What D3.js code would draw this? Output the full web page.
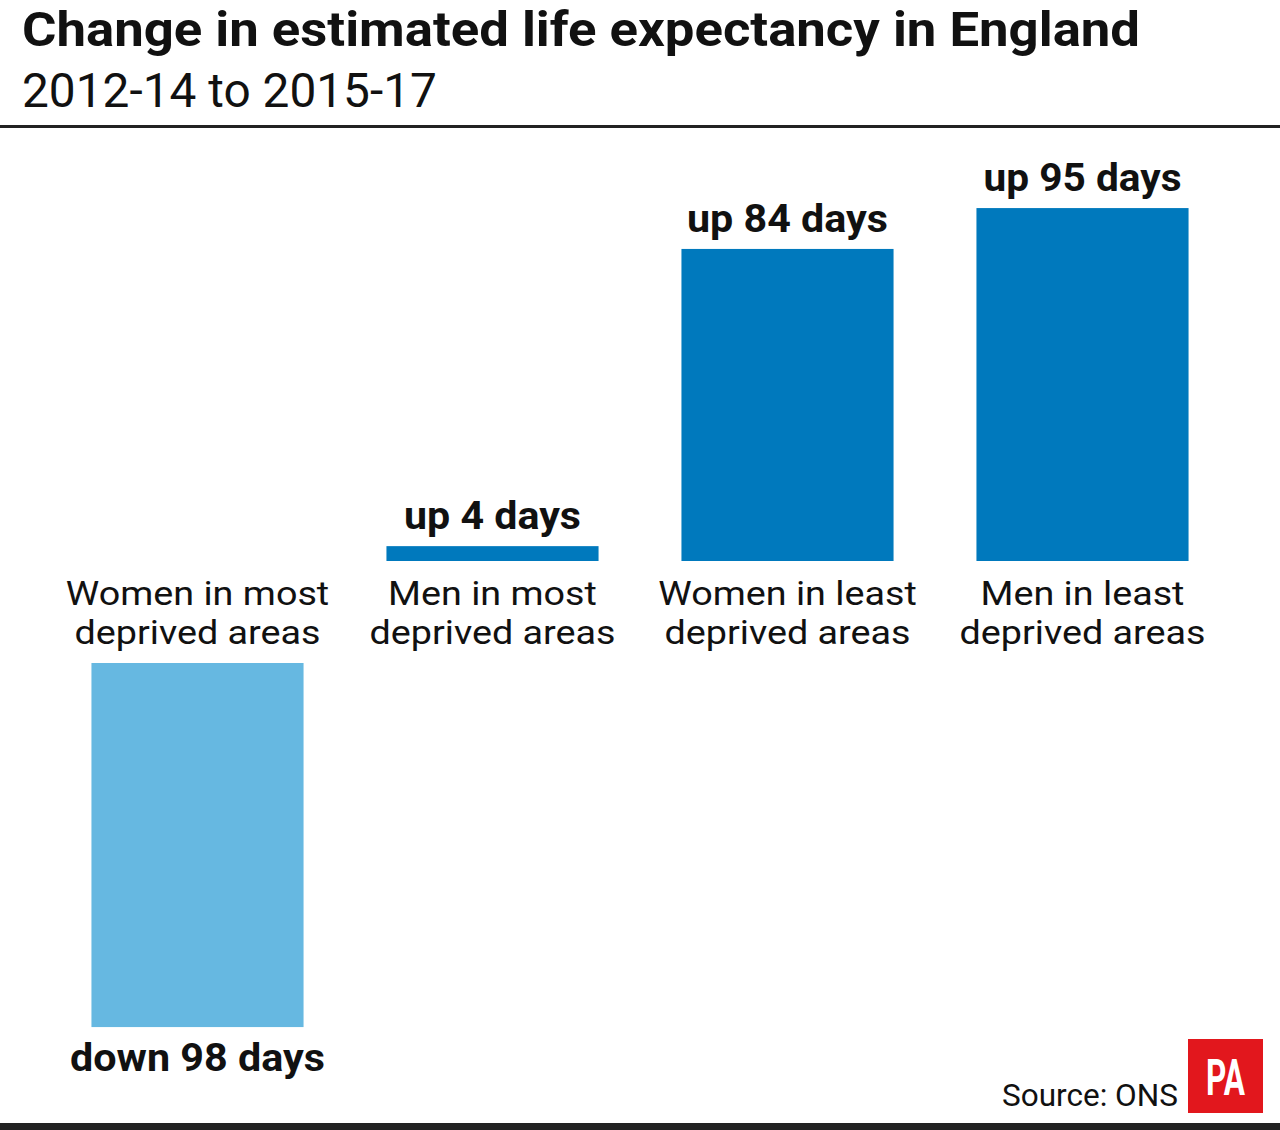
<!DOCTYPE html>
<html><head><meta charset="utf-8">
<script src="https://cdn.jsdelivr.net/npm/d3@7"></script>
<style>
html,body{margin:0;padding:0;background:#fff;}
svg{display:block;}
text{font-family:Roboto,"Open Sans",sans-serif;fill:#111;}
</style></head>
<body>
<svg id="c" width="1280" height="1130"></svg>
<script>
// ---- data ----
const categories = ["Women in most|deprived areas","Men in most|deprived areas","Women in least|deprived areas","Men in least|deprived areas"];
const values = [-98, 4, 84, 95];
const valueLabels = ["down 98 days","up 4 days","up 84 days","up 95 days"];
const title = "Change in estimated life expectancy in England";
const subtitle = "2012-14 to 2015-17";
const source = "Source: ONS";

// ---- layout ----
const W = 1280, H = 1130;
const svg = d3.select("#c");
svg.append("rect").attr("width",W).attr("height",H).attr("fill","#fff");

function fit(sel, target, maxSize){
  sel.each(function(){
    const t = d3.select(this);
    const w = this.getComputedTextLength();
    const fs = parseFloat(t.attr("font-size"));
    let nfs = fs * target / w;
    if (maxSize && nfs > maxSize) {
      nfs = maxSize;
      t.attr("font-size", nfs);
      t.attr("textLength", target).attr("lengthAdjust","spacingAndGlyphs");
    } else {
      t.attr("font-size", nfs);
    }
  });
}

const tt = svg.append("text").attr("x",22).attr("y",46).attr("font-size",48).attr("font-weight",700).text(title);
fit(tt, 1118, 49);
const st = svg.append("text").attr("x",22).attr("y",107).attr("font-size",44).attr("font-weight",400).text(subtitle);
fit(st, 415, 48);

svg.append("rect").attr("x",0).attr("y",125).attr("width",W).attr("height",3).attr("fill","#222");
svg.append("rect").attr("x",0).attr("y",1123).attr("width",W).attr("height",7).attr("fill","#222");

const x = d3.scaleBand().domain(categories).range([50,1230]).paddingInner(0.281).paddingOuter(0.1405);
const y = d3.scaleLinear().domain([0,100]).range([561, 561-371.5]);
const negTop = 663;
const colors = v => v < 0 ? "#66b8e1" : "#0079bd";

const g = svg.append("g");
const catTexts = [];
categories.forEach((c,i)=>{
  const v = values[i];
  const h = y(0) - y(Math.abs(v));
  const bx = x(c), bw = x.bandwidth(), cx = bx + bw/2;
  const top = v >= 0 ? y(v) : negTop;
  g.append("rect").attr("x",bx).attr("y",top).attr("width",bw).attr("height",h).attr("fill",colors(v));
  // value label
  const ly = v >= 0 ? top - 17 : top + h + 44;
  const vl = g.append("text").attr("x",cx).attr("y",ly).attr("text-anchor","middle")
    .attr("font-size",36).attr("font-weight",700).text(valueLabels[i]);
  const vw = [255,177,201,198][i];
  fit(vl, vw, 39);
  // category label (single text, two lines)
  const parts = c.split("|");
  const ct = g.append("text").attr("x",cx).attr("y",605).attr("text-anchor","middle")
    .attr("font-size",32).attr("font-weight",400);
  parts.forEach((p,j)=>{
    ct.append("tspan").attr("x",cx).attr("dy", j===0 ? 0 : 39).text(p);
  });
  catTexts.push(ct);
});
// uniform category font (capped for line spacing), width matched on "deprived areas"
const catFont = 33;
catTexts.forEach(t=>t.attr("font-size", catFont));
const probeW = catTexts[0].selectAll("tspan").nodes()[1].getComputedTextLength();
const sx = 246 / probeW;
catTexts.forEach(t=>{
  t.selectAll("tspan").each(function(){
    const w = this.getComputedTextLength();
    d3.select(this).attr("textLength", w*sx).attr("lengthAdjust","spacingAndGlyphs");
  });
});

const src = svg.append("text").attr("x",1178).attr("y",1106).attr("text-anchor","end").attr("font-size",30).text(source);
fit(src, 176, 31);

svg.append("rect").attr("x",1188).attr("y",1039).attr("width",75).attr("height",74).attr("fill","#e2171d");
svg.append("text").attr("x",1206).attr("y",1095).attr("font-size",50)
  .attr("font-weight",700).attr("font-family","'Liberation Sans Narrow','DejaVu Sans Condensed',sans-serif")
  .attr("textLength",39).attr("lengthAdjust","spacingAndGlyphs")
  .style("fill","#fff").text("PA");
</script>
</body></html>
